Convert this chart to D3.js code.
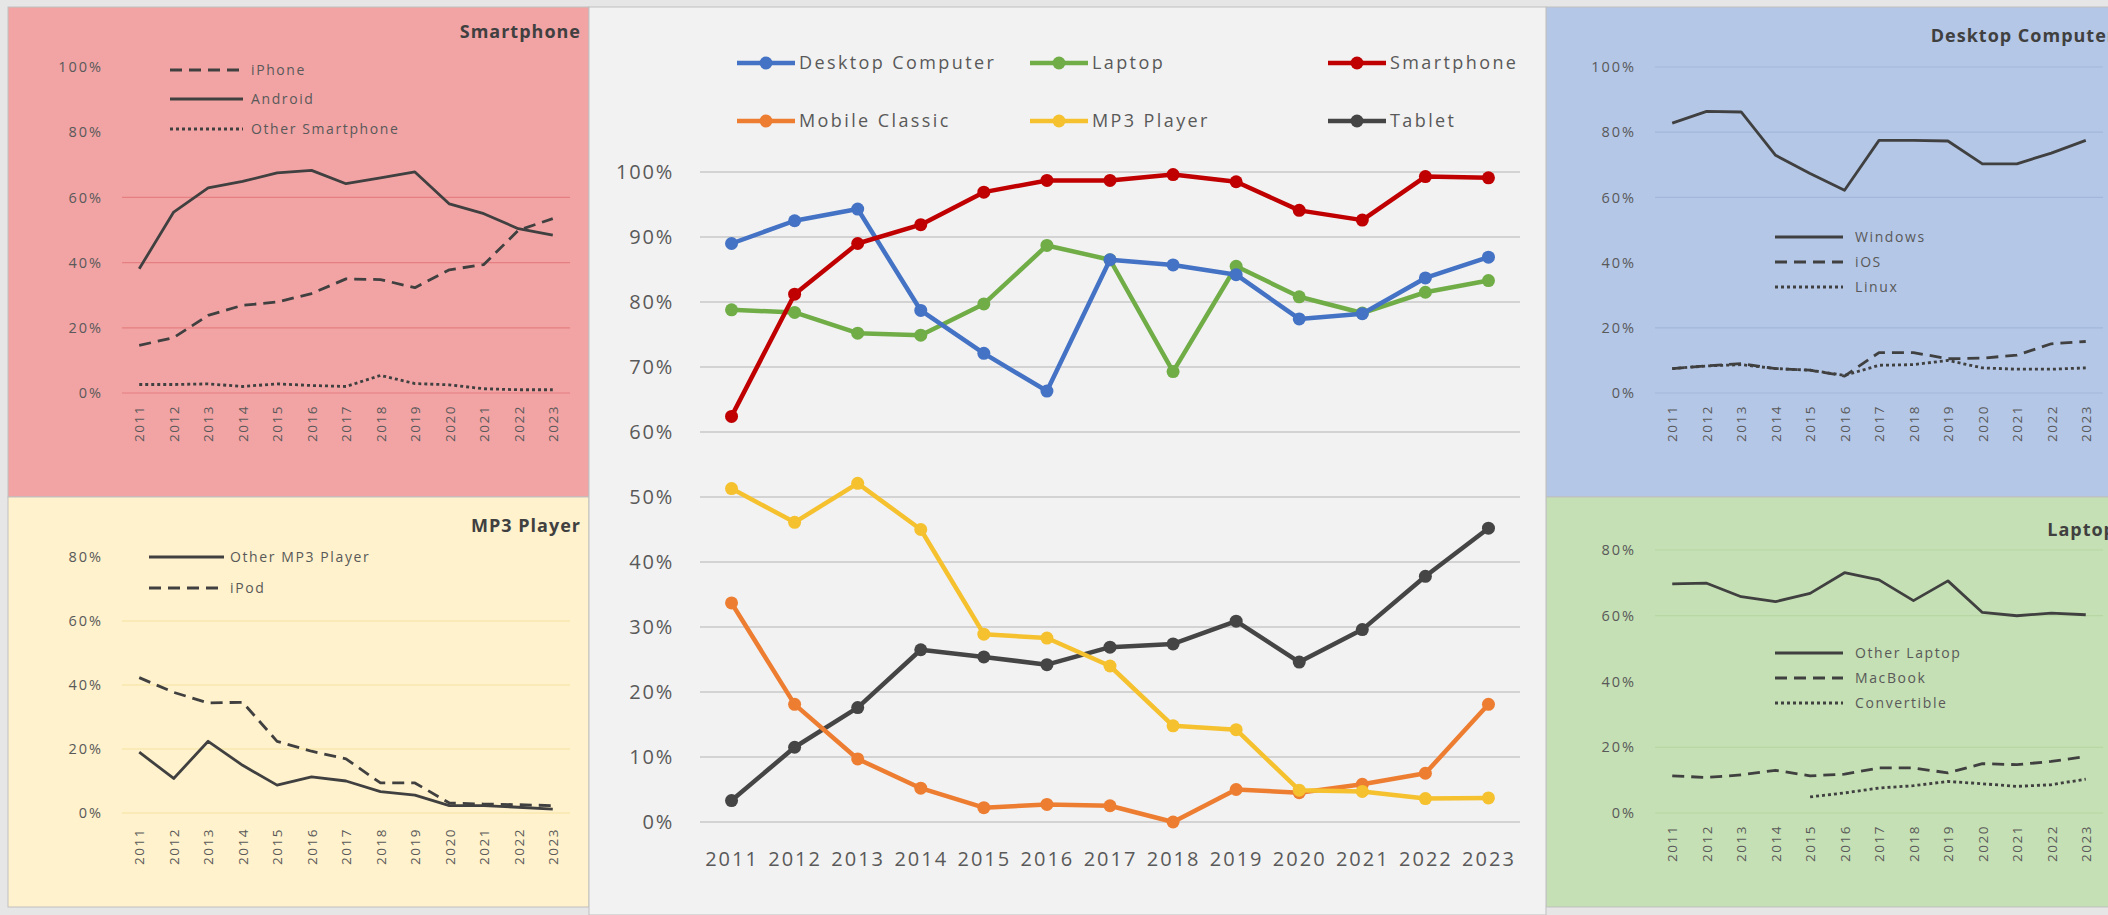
<!DOCTYPE html>
<html lang="en">
<head>
<meta charset="UTF-8">
<title>Device market share 2011-2023</title>
<style>
  body { margin: 0; background: #e6e6e6; }
  svg { display: block; font-family: "Open Sans", "DejaVu Sans", sans-serif; }
</style>
</head>
<body>
<svg id="svg"></svg>
<script src="https://d3js.org/d3.v7.min.js"></script>
<script>
// ---- data (percent) ----
const years = ["2011","2012","2013","2014","2015","2016","2017","2018","2019","2020","2021","2022","2023"];

// center chart
const desktopShare       = [89.0, 92.5, 94.3, 78.7, 72.1, 66.3, 86.5, 85.7, 84.2, 77.4, 78.2, 83.7, 86.9];
const laptopShare        = [78.8, 78.4, 75.2, 74.9, 79.7, 88.7, 86.5, 69.3, 85.5, 80.8, 78.3, 81.5, 83.3];
const smartphoneShare    = [62.4, 81.2, 89.0, 91.9, 96.9, 98.7, 98.7, 99.6, 98.5, 94.1, 92.6, 99.3, 99.1];
const mobileClassicShare = [33.7, 18.1, 9.7, 5.2, 2.2, 2.7, 2.5, 0.0, 5.0, 4.5, 5.8, 7.5, 18.1];
const mp3Share           = [51.3, 46.1, 52.1, 45.0, 28.9, 28.3, 24.0, 14.8, 14.2, 4.9, 4.7, 3.6, 3.7];
const tabletShare        = [3.3, 11.5, 17.6, 26.5, 25.4, 24.2, 26.9, 27.4, 30.9, 24.6, 29.6, 37.8, 45.2];
const centerTicks = [0, 10, 20, 30, 40, 50, 60, 70, 80, 90, 100];

// smartphone panel
const iphone          = [14.6, 17.0, 23.8, 26.9, 27.9, 30.5, 35.0, 34.8, 32.3, 37.8, 39.4, 49.9, 53.5];
const android         = [38.1, 55.5, 62.9, 64.9, 67.5, 68.3, 64.2, 66.0, 67.8, 58.0, 55.0, 50.4, 48.4];
const otherSmartphone = [2.6, 2.6, 2.8, 2.0, 2.8, 2.3, 2.0, 5.4, 2.9, 2.5, 1.3, 1.0, 1.0];
const smartphoneTicks = [0, 20, 40, 60, 80, 100];

// mp3 panel
const otherMp3 = [19.0, 10.8, 22.4, 14.9, 8.7, 11.3, 10.0, 6.7, 5.6, 2.3, 2.3, 1.8, 1.2];
const ipod     = [42.3, 37.7, 34.4, 34.6, 22.4, 19.3, 16.9, 9.4, 9.4, 3.1, 2.8, 2.6, 2.3];
const mp3Ticks = [0, 20, 40, 60, 80];

// desktop panel
const windows = [82.8, 86.4, 86.2, 72.9, 67.3, 62.2, 77.5, 77.5, 77.3, 70.3, 70.3, 73.6, 77.5];
const ios     = [7.5, 8.3, 9.0, 7.5, 7.0, 5.2, 12.4, 12.4, 10.5, 10.7, 11.6, 15.1, 15.8];
const linux   = [7.5, 8.3, 8.7, 7.5, 7.0, 5.4, 8.5, 8.7, 10.0, 7.7, 7.3, 7.3, 7.7];
const desktopTicks = [0, 20, 40, 60, 80, 100];

// laptop panel
const otherLaptop = [69.7, 69.9, 65.8, 64.3, 66.8, 73.1, 70.9, 64.6, 70.6, 61.0, 60.0, 60.8, 60.3];
const macbook     = [11.3, 10.8, 11.6, 13.0, 11.3, 11.8, 13.7, 13.7, 12.2, 15.0, 14.7, 15.7, 17.2];
const convertible = [null, null, null, null, 4.9, 6.1, 7.6, 8.3, 9.6, 8.9, 8.1, 8.6, 10.3];
const laptopTicks = [0, 20, 40, 60, 80];

// ---- canvas ----
const width = 2108, height = 915;
const svg = d3.select("#svg").attr("width", width).attr("height", height);

const dashStyles = { solid: null, dashed: "12,7", dotted: "3,3" };
const textGray = "#595959";

// small side chart
function drawSmallPanel(cfg) {
    const g = svg.append("g");
    g.append("rect")
        .attr("x", cfg.panel.x).attr("y", cfg.panel.y)
        .attr("width", cfg.panel.w).attr("height", cfg.panel.h)
        .attr("fill", cfg.fill).attr("stroke", "#bfbfbf");

    const x = d3.scalePoint().domain(years).range(cfg.xRange).padding(0.5);
    const y = d3.scaleLinear().domain([0, d3.max(cfg.ticks)]).range(cfg.yRange);

    // gridlines
    g.append("g").selectAll("line").data(cfg.ticks).join("line")
        .attr("x1", cfg.xRange[0]).attr("x2", cfg.xRange[1])
        .attr("y1", d => y(d)).attr("y2", d => y(d))
        .attr("stroke", cfg.grid).attr("stroke-width", 1.2);

    // y axis
    const yAxis = g.append("g")
        .attr("transform", `translate(${cfg.xRange[0]},0)`)
        .call(d3.axisLeft(y).tickValues(cfg.ticks).tickSize(0).tickPadding(19).tickFormat(d => d + "%"));
    yAxis.select(".domain").remove();
    yAxis.selectAll("text").attr("font-size", 14.5).attr("letter-spacing", 2)
        .attr("fill", textGray).attr("font-family", "Open Sans");

    // x axis, vertical labels
    const xAxis = g.append("g")
        .attr("transform", `translate(0,${cfg.yRange[0]})`)
        .call(d3.axisBottom(x).tickSize(0));
    xAxis.select(".domain").remove();
    xAxis.selectAll("text")
        .attr("font-size", 13.5).attr("letter-spacing", 1.5)
        .attr("fill", textGray).attr("font-family", "Open Sans")
        .attr("text-anchor", "end")
        .attr("transform", "rotate(-90)")
        .attr("x", -cfg.labelGap).attr("y", 0).attr("dy", "0.35em");

    // legend box hides the gridline under it
    g.append("rect")
        .attr("x", cfg.xRange[0]).attr("width", cfg.xRange[1] - cfg.xRange[0])
        .attr("y", cfg.legend.box[0]).attr("height", cfg.legend.box[1] - cfg.legend.box[0])
        .attr("fill", cfg.fill);

    // series
    const line = d3.line()
        .defined(d => d != null)
        .x((d, i) => x(years[i]))
        .y(d => y(d));
    cfg.series.forEach(s => {
        g.append("path")
            .attr("d", line(s.values))
            .attr("fill", "none")
            .attr("stroke", "#404040")
            .attr("stroke-width", 2.8)
            .attr("stroke-linejoin", "round")
            .attr("stroke-dasharray", dashStyles[s.style]);
    });

    // legend
    const lg = g.append("g");
    cfg.series.forEach((s, i) => {
        const ly = cfg.legend.ys[i];
        lg.append("line")
            .attr("x1", cfg.legend.x1).attr("x2", cfg.legend.x2)
            .attr("y1", ly).attr("y2", ly)
            .attr("stroke", "#404040").attr("stroke-width", 2.8)
            .attr("stroke-dasharray", dashStyles[s.style]);
        lg.append("text")
            .attr("x", cfg.legend.tx).attr("y", ly).attr("dy", "0.35em")
            .attr("font-size", 14).attr("letter-spacing", 1.6)
            .attr("fill", textGray)
            .text(s.name);
    });

    // title
    g.append("text")
        .attr("x", cfg.title.x).attr("y", cfg.title.y)
        .attr("text-anchor", "end")
        .attr("font-size", 18).attr("font-weight", "bold").attr("letter-spacing", 1)
        .attr("fill", "#404040")
        .text(cfg.title.text);
}

drawSmallPanel({
    panel: {x: 8, y: 7, w: 581, h: 490}, fill: "#f2a4a5", grid: "#e57f81",
    xRange: [122, 570], yRange: [393, 67], ticks: smartphoneTicks, labelGap: 12,
    title: {text: "Smartphone", x: 581, y: 38},
    legend: {x1: 170, x2: 243, tx: 251, ys: [70, 99, 129], box: [52, 146]},
    series: [
        {name: "iPhone", values: iphone, style: "dashed"},
        {name: "Android", values: android, style: "solid"},
        {name: "Other Smartphone", values: otherSmartphone, style: "dotted"}
    ]
});

drawSmallPanel({
    panel: {x: 8, y: 497, w: 581, h: 410}, fill: "#fff2cc", grid: "#f5e3a0",
    xRange: [122, 570], yRange: [813, 557], ticks: mp3Ticks, labelGap: 15,
    title: {text: "MP3 Player", x: 581, y: 532},
    legend: {x1: 149, x2: 224, tx: 230, ys: [557, 588], box: [542, 602]},
    series: [
        {name: "Other MP3 Player", values: otherMp3, style: "solid"},
        {name: "iPod", values: ipod, style: "dashed"}
    ]
});

drawSmallPanel({
    panel: {x: 1546, y: 7, w: 600, h: 490}, fill: "#b4c7e7", grid: "#a3b7dc",
    xRange: [1655, 2103], yRange: [393, 67], ticks: desktopTicks, labelGap: 12,
    title: {text: "Desktop Computer", x: 2116, y: 42},
    legend: {x1: 1775, x2: 1843, tx: 1855, ys: [237, 262, 287], box: [222, 301]},
    series: [
        {name: "Windows", values: windows, style: "solid"},
        {name: "iOS", values: ios, style: "dashed"},
        {name: "Linux", values: linux, style: "dotted"}
    ]
});

drawSmallPanel({
    panel: {x: 1546, y: 497, w: 600, h: 410}, fill: "#c5e0b4", grid: "#b5d5a1",
    xRange: [1655, 2103], yRange: [813, 550], ticks: laptopTicks, labelGap: 12,
    title: {text: "Laptop", x: 2116, y: 536},
    legend: {x1: 1775, x2: 1843, tx: 1855, ys: [653, 678, 703], box: [640, 716]},
    series: [
        {name: "Other Laptop", values: otherLaptop, style: "solid"},
        {name: "MacBook", values: macbook, style: "dashed"},
        {name: "Convertible", values: convertible, style: "dotted"}
    ]
});

// ---- center chart ----
const center = svg.append("g");
center.append("rect")
    .attr("x", 589).attr("y", 7).attr("width", 957).attr("height", 908)
    .attr("fill", "#f2f2f2").attr("stroke", "#bfbfbf");

const cx = d3.scalePoint().domain(years).range([700, 1520]).padding(0.5);
const cy = d3.scaleLinear().domain([0, 100]).range([822, 172]);

center.append("g").selectAll("line").data(centerTicks).join("line")
    .attr("x1", 700).attr("x2", 1520)
    .attr("y1", d => cy(d)).attr("y2", d => cy(d))
    .attr("stroke", "#c8c8c8").attr("stroke-width", 1.6);

const cyAxis = center.append("g").attr("transform", "translate(700,0)")
    .call(d3.axisLeft(cy).tickValues(centerTicks).tickSize(0).tickPadding(26).tickFormat(d => d + "%"));
cyAxis.select(".domain").remove();
cyAxis.selectAll("text").attr("font-size", 20).attr("letter-spacing", 1.8)
    .attr("fill", textGray).attr("font-family", "Open Sans");

const cxAxis = center.append("g").attr("transform", "translate(0,822)")
    .call(d3.axisBottom(cx).tickSize(0).tickPadding(30));
cxAxis.select(".domain").remove();
cxAxis.selectAll("text").attr("font-size", 20).attr("letter-spacing", 2)
    .attr("fill", textGray).attr("font-family", "Open Sans");

const centerSeries = [
    {name: "Desktop Computer", values: desktopShare, color: "#4472c4"},
    {name: "Laptop", values: laptopShare, color: "#70ad47"},
    {name: "Smartphone", values: smartphoneShare, color: "#c00000"},
    {name: "Mobile Classic", values: mobileClassicShare, color: "#ed7d31"},
    {name: "MP3 Player", values: mp3Share, color: "#f5c12f"},
    {name: "Tablet", values: tabletShare, color: "#454545"}
];

const cline = d3.line().x((d, i) => cx(years[i])).y(d => cy(d));
// draw order: bottom series first so red ends up on top
const drawOrder = ["Tablet", "Mobile Classic", "MP3 Player", "Laptop", "Desktop Computer", "Smartphone"];
drawOrder.forEach(n => {
    const s = centerSeries.find(c => c.name === n);
    const sg = center.append("g");
    sg.append("path")
        .attr("d", cline(s.values))
        .attr("fill", "none").attr("stroke", s.color)
        .attr("stroke-width", 4.5).attr("stroke-linejoin", "round");
    sg.selectAll("circle").data(s.values).join("circle")
        .attr("cx", (d, i) => cx(years[i])).attr("cy", d => cy(d))
        .attr("r", 6.5).attr("fill", s.color);
});

// legend, 3 columns x 2 rows
const legendCols = [737, 1030, 1328];
const legendRows = [63, 121];
centerSeries.forEach((s, i) => {
    const lx = legendCols[i % 3], ly = legendRows[Math.floor(i / 3)];
    const lg = center.append("g").attr("transform", `translate(${lx},${ly})`);
    lg.append("line").attr("x1", 0).attr("x2", 58)
        .attr("stroke", s.color).attr("stroke-width", 4.5);
    lg.append("circle").attr("cx", 29).attr("r", 6.5).attr("fill", s.color);
    lg.append("text").attr("x", 62).attr("dy", "0.35em")
        .attr("font-size", 18).attr("letter-spacing", 2.4)
        .attr("fill", textGray)
        .text(s.name);
});
</script>
</body>
</html>
